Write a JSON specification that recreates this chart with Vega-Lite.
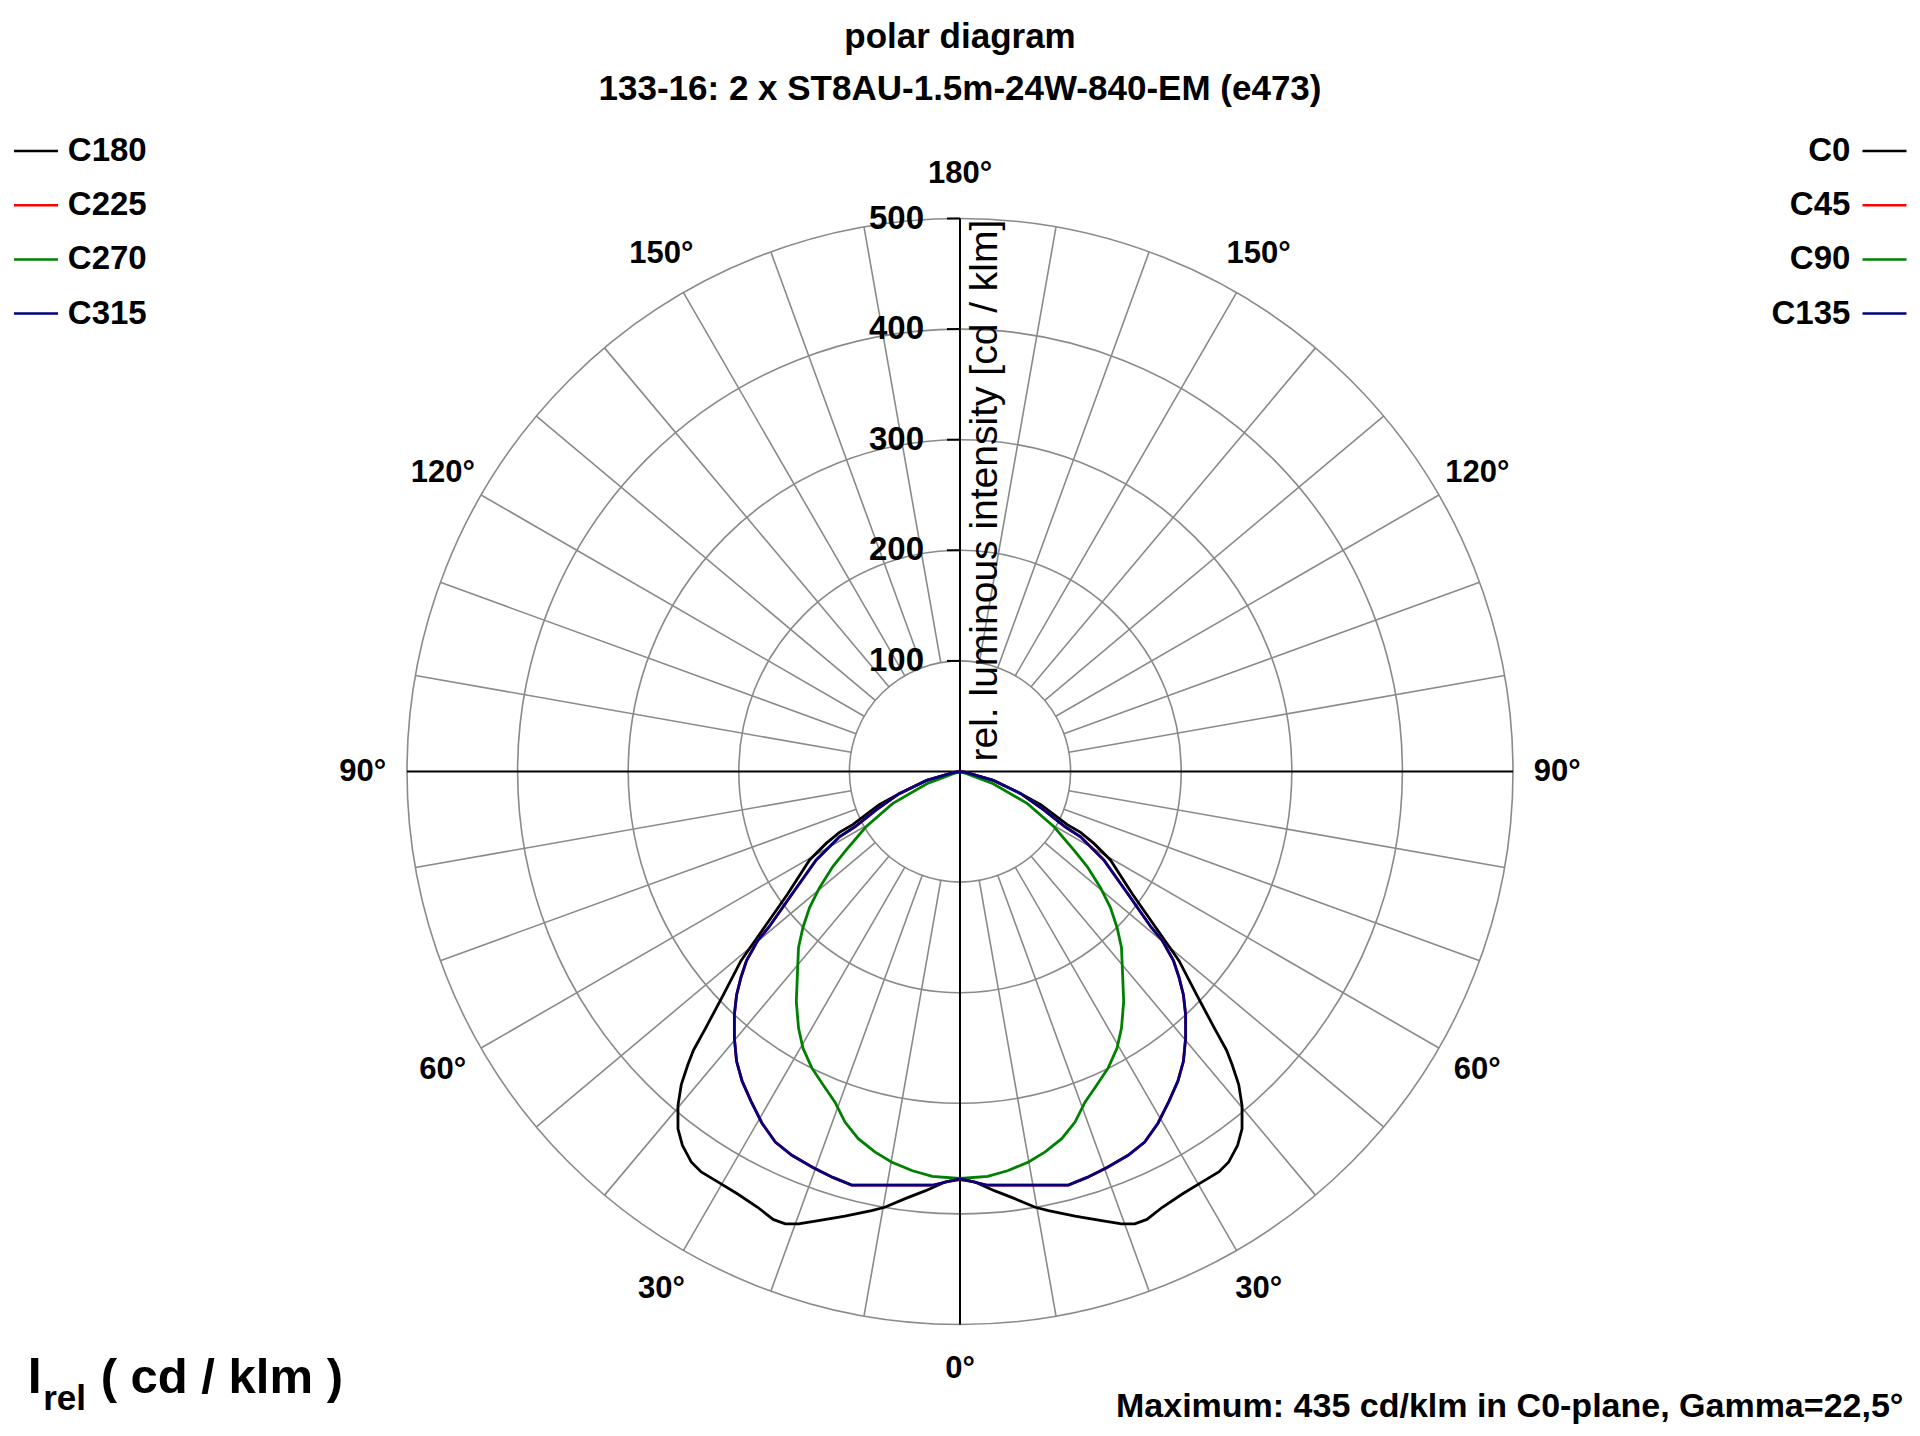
{
  "$schema": "https://vega.github.io/schema/vega-lite/v6.json",
  "width": 1106,
  "height": 1106,
  "autosize": {"type": "none"},
  "padding": {"left": 407, "top": 218.5, "right": 407, "bottom": 111.5},
  "background": "white",
  "config": {"view": {"stroke": null}, "font": "Liberation Sans"},
  "title": {
    "text": "polar diagram",
    "subtitle": "133-16: 2 x ST8AU-1.5m-24W-840-EM (e473)",
    "anchor": "middle",
    "font": "Liberation Sans", "fontSize": 35, "fontWeight": "bold", "color": "black",
    "subtitleFont": "Liberation Sans", "subtitleFontSize": 35, "subtitleFontWeight": "bold", "subtitleColor": "black",
    "subtitlePadding": 17,
    "offset": 21
  },
  "datasets": {
    "rings": [{"r": 100}, {"r": 200}, {"r": 300}, {"r": 400}, {"r": 500}],
    "spokes": [
      {"a": 10}, {"a": 20}, {"a": 30}, {"a": 40}, {"a": 50}, {"a": 60}, {"a": 70}, {"a": 80},
      {"a": 100}, {"a": 110}, {"a": 120}, {"a": 130}, {"a": 140}, {"a": 150}, {"a": 160}, {"a": 170},
      {"a": 190}, {"a": 200}, {"a": 210}, {"a": 220}, {"a": 230}, {"a": 240}, {"a": 250}, {"a": 260},
      {"a": 280}, {"a": 290}, {"a": 300}, {"a": 310}, {"a": 320}, {"a": 330}, {"a": 340}, {"a": 350}
    ],
    "ticks": [{"v": 100}, {"v": 200}, {"v": 300}, {"v": 400}, {"v": 500}],
    "angles": [
      {"t": "0°", "a": 180}, {"t": "30°", "a": 210}, {"t": "30°", "a": 150},
      {"t": "60°", "a": 240}, {"t": "60°", "a": 120}, {"t": "90°", "a": 270}, {"t": "90°", "a": 90},
      {"t": "120°", "a": 300}, {"t": "120°", "a": 60}, {"t": "150°", "a": 330}, {"t": "150°", "a": 30},
      {"t": "180°", "a": 0}
    ],
    "curves": [
      {"l": "C180", "r": "C0", "o": 0, "x": 0, "y": -369},
      {"l": "C180", "r": "C0", "o": 1, "x": -13, "y": -371},
      {"l": "C180", "r": "C0", "o": 2, "x": -31, "y": -379},
      {"l": "C180", "r": "C0", "o": 3, "x": -49, "y": -386},
      {"l": "C180", "r": "C0", "o": 4, "x": -68, "y": -394},
      {"l": "C180", "r": "C0", "o": 5, "x": -80, "y": -397},
      {"l": "C180", "r": "C0", "o": 6, "x": -104, "y": -402},
      {"l": "C180", "r": "C0", "o": 7, "x": -128, "y": -406},
      {"l": "C180", "r": "C0", "o": 8, "x": -146, "y": -409},
      {"l": "C180", "r": "C0", "o": 9, "x": -158, "y": -409},
      {"l": "C180", "r": "C0", "o": 10, "x": -169, "y": -405},
      {"l": "C180", "r": "C0", "o": 11, "x": -183, "y": -394},
      {"l": "C180", "r": "C0", "o": 12, "x": -201, "y": -382},
      {"l": "C180", "r": "C0", "o": 13, "x": -219, "y": -371},
      {"l": "C180", "r": "C0", "o": 14, "x": -234, "y": -362},
      {"l": "C180", "r": "C0", "o": 15, "x": -243, "y": -353},
      {"l": "C180", "r": "C0", "o": 16, "x": -251, "y": -338},
      {"l": "C180", "r": "C0", "o": 17, "x": -255, "y": -323},
      {"l": "C180", "r": "C0", "o": 18, "x": -255, "y": -302},
      {"l": "C180", "r": "C0", "o": 19, "x": -252, "y": -283},
      {"l": "C180", "r": "C0", "o": 20, "x": -246, "y": -265},
      {"l": "C180", "r": "C0", "o": 21, "x": -241, "y": -252},
      {"l": "C180", "r": "C0", "o": 22, "x": -230, "y": -232},
      {"l": "C180", "r": "C0", "o": 23, "x": -214, "y": -202},
      {"l": "C180", "r": "C0", "o": 24, "x": -198, "y": -171},
      {"l": "C180", "r": "C0", "o": 25, "x": -177, "y": -141},
      {"l": "C180", "r": "C0", "o": 26, "x": -156, "y": -111},
      {"l": "C180", "r": "C0", "o": 27, "x": -136, "y": -80},
      {"l": "C180", "r": "C0", "o": 28, "x": -121, "y": -65},
      {"l": "C180", "r": "C0", "o": 29, "x": -109, "y": -55},
      {"l": "C180", "r": "C0", "o": 30, "x": -97, "y": -48},
      {"l": "C180", "r": "C0", "o": 31, "x": -85, "y": -39},
      {"l": "C180", "r": "C0", "o": 32, "x": -73, "y": -30},
      {"l": "C180", "r": "C0", "o": 33, "x": -55, "y": -20},
      {"l": "C180", "r": "C0", "o": 34, "x": -30, "y": -8},
      {"l": "C180", "r": "C0", "o": 35, "x": -6, "y": -1},
      {"l": "C180", "r": "C0", "o": 36, "x": 0, "y": 0},

      {"l": "C225", "r": "C45", "o": 0, "x": 0, "y": -368},
      {"l": "C225", "r": "C45", "o": 1, "x": -24, "y": -374},
      {"l": "C225", "r": "C45", "o": 2, "x": -98, "y": -374},
      {"l": "C225", "r": "C45", "o": 3, "x": -115, "y": -367},
      {"l": "C225", "r": "C45", "o": 4, "x": -133, "y": -358},
      {"l": "C225", "r": "C45", "o": 5, "x": -152, "y": -347},
      {"l": "C225", "r": "C45", "o": 6, "x": -167, "y": -335},
      {"l": "C225", "r": "C45", "o": 7, "x": -179, "y": -318},
      {"l": "C225", "r": "C45", "o": 8, "x": -189, "y": -298},
      {"l": "C225", "r": "C45", "o": 9, "x": -197, "y": -280},
      {"l": "C225", "r": "C45", "o": 10, "x": -202, "y": -262},
      {"l": "C225", "r": "C45", "o": 11, "x": -204, "y": -241},
      {"l": "C225", "r": "C45", "o": 12, "x": -204, "y": -220},
      {"l": "C225", "r": "C45", "o": 13, "x": -202, "y": -202},
      {"l": "C225", "r": "C45", "o": 14, "x": -198, "y": -186},
      {"l": "C225", "r": "C45", "o": 15, "x": -193, "y": -171},
      {"l": "C225", "r": "C45", "o": 16, "x": -183, "y": -153},
      {"l": "C225", "r": "C45", "o": 17, "x": -173, "y": -141},
      {"l": "C225", "r": "C45", "o": 18, "x": -152, "y": -111},
      {"l": "C225", "r": "C45", "o": 19, "x": -130, "y": -80},
      {"l": "C225", "r": "C45", "o": 20, "x": -109, "y": -59},
      {"l": "C225", "r": "C45", "o": 21, "x": -95, "y": -50},
      {"l": "C225", "r": "C45", "o": 22, "x": -76, "y": -35},
      {"l": "C225", "r": "C45", "o": 23, "x": -55, "y": -20},
      {"l": "C225", "r": "C45", "o": 24, "x": -30, "y": -8},
      {"l": "C225", "r": "C45", "o": 25, "x": -6, "y": -1},
      {"l": "C225", "r": "C45", "o": 26, "x": 0, "y": 0},

      {"l": "C270", "r": "C90", "o": 0, "x": 0, "y": -368},
      {"l": "C270", "r": "C90", "o": 1, "x": -25, "y": -366},
      {"l": "C270", "r": "C90", "o": 2, "x": -43, "y": -361},
      {"l": "C270", "r": "C90", "o": 3, "x": -62, "y": -353},
      {"l": "C270", "r": "C90", "o": 4, "x": -77, "y": -344},
      {"l": "C270", "r": "C90", "o": 5, "x": -92, "y": -332},
      {"l": "C270", "r": "C90", "o": 6, "x": -104, "y": -317},
      {"l": "C270", "r": "C90", "o": 7, "x": -113, "y": -299},
      {"l": "C270", "r": "C90", "o": 8, "x": -122, "y": -286},
      {"l": "C270", "r": "C90", "o": 9, "x": -134, "y": -268},
      {"l": "C270", "r": "C90", "o": 10, "x": -142, "y": -250},
      {"l": "C270", "r": "C90", "o": 11, "x": -146, "y": -232},
      {"l": "C270", "r": "C90", "o": 12, "x": -148, "y": -208},
      {"l": "C270", "r": "C90", "o": 13, "x": -147, "y": -183},
      {"l": "C270", "r": "C90", "o": 14, "x": -146, "y": -159},
      {"l": "C270", "r": "C90", "o": 15, "x": -142, "y": -141},
      {"l": "C270", "r": "C90", "o": 16, "x": -136, "y": -123},
      {"l": "C270", "r": "C90", "o": 17, "x": -127, "y": -105},
      {"l": "C270", "r": "C90", "o": 18, "x": -115, "y": -86},
      {"l": "C270", "r": "C90", "o": 19, "x": -103, "y": -71},
      {"l": "C270", "r": "C90", "o": 20, "x": -85, "y": -50},
      {"l": "C270", "r": "C90", "o": 21, "x": -61, "y": -29},
      {"l": "C270", "r": "C90", "o": 22, "x": -30, "y": -11},
      {"l": "C270", "r": "C90", "o": 23, "x": -6, "y": -2},
      {"l": "C270", "r": "C90", "o": 24, "x": 0, "y": 0},

      {"l": "C315", "r": "C135", "o": 0, "x": 0, "y": -368},
      {"l": "C315", "r": "C135", "o": 1, "x": -24, "y": -374},
      {"l": "C315", "r": "C135", "o": 2, "x": -98, "y": -374},
      {"l": "C315", "r": "C135", "o": 3, "x": -115, "y": -367},
      {"l": "C315", "r": "C135", "o": 4, "x": -133, "y": -358},
      {"l": "C315", "r": "C135", "o": 5, "x": -152, "y": -347},
      {"l": "C315", "r": "C135", "o": 6, "x": -167, "y": -335},
      {"l": "C315", "r": "C135", "o": 7, "x": -179, "y": -318},
      {"l": "C315", "r": "C135", "o": 8, "x": -189, "y": -298},
      {"l": "C315", "r": "C135", "o": 9, "x": -197, "y": -280},
      {"l": "C315", "r": "C135", "o": 10, "x": -202, "y": -262},
      {"l": "C315", "r": "C135", "o": 11, "x": -204, "y": -241},
      {"l": "C315", "r": "C135", "o": 12, "x": -204, "y": -220},
      {"l": "C315", "r": "C135", "o": 13, "x": -202, "y": -202},
      {"l": "C315", "r": "C135", "o": 14, "x": -198, "y": -186},
      {"l": "C315", "r": "C135", "o": 15, "x": -193, "y": -171},
      {"l": "C315", "r": "C135", "o": 16, "x": -183, "y": -153},
      {"l": "C315", "r": "C135", "o": 17, "x": -173, "y": -141},
      {"l": "C315", "r": "C135", "o": 18, "x": -152, "y": -111},
      {"l": "C315", "r": "C135", "o": 19, "x": -130, "y": -80},
      {"l": "C315", "r": "C135", "o": 20, "x": -109, "y": -59},
      {"l": "C315", "r": "C135", "o": 21, "x": -95, "y": -50},
      {"l": "C315", "r": "C135", "o": 22, "x": -76, "y": -35},
      {"l": "C315", "r": "C135", "o": 23, "x": -55, "y": -20},
      {"l": "C315", "r": "C135", "o": 24, "x": -30, "y": -8},
      {"l": "C315", "r": "C135", "o": 25, "x": -6, "y": -1},
      {"l": "C315", "r": "C135", "o": 26, "x": 0, "y": 0}
    ]
  },
  "resolve": {"scale": {"x": "independent"}},
  "layer": [
    {
      "data": {"name": "rings"},
      "mark": {"type": "arc", "filled": false, "stroke": "#8a8a8a", "strokeWidth": 1.6, "theta": 0, "theta2": 6.283185307179586},
      "encoding": {
        "radius": {"field": "r", "type": "quantitative", "stack": null, "scale": {"type": "linear", "zero": true, "nice": false, "domain": [0, 500], "range": [0, 553]}}
      }
    },
    {
      "data": {"name": "spokes"},
      "mark": {"type": "arc", "filled": false, "stroke": "#8a8a8a", "strokeWidth": 1.6},
      "encoding": {
        "theta": {"field": "a", "type": "quantitative", "stack": null, "scale": {"type": "linear", "zero": true, "nice": false, "domain": [0, 360], "range": [0, 6.283185307179586]}},
        "theta2": {"field": "a"},
        "radius": {"datum": 500, "type": "quantitative", "stack": null, "scale": {"type": "linear", "zero": true, "nice": false, "domain": [0, 500], "range": [0, 553]}},
        "radius2": {"datum": 100}
      }
    },
    {
      "data": {"values": [{}]},
      "mark": {"type": "rule", "color": "black", "strokeWidth": 2},
      "encoding": {
        "x": {"datum": -500, "type": "quantitative", "scale": {"domain": [-500, 500], "nice": false}, "axis": null},
        "x2": {"datum": 500},
        "y": {"datum": 0, "type": "quantitative", "scale": {"domain": [-500, 500], "nice": false}, "axis": null}
      }
    },
    {
      "data": {"values": [{}]},
      "mark": {"type": "rule", "color": "black", "strokeWidth": 2},
      "encoding": {
        "x": {"datum": 0, "type": "quantitative", "scale": {"domain": [-500, 500], "nice": false}, "axis": null},
        "y": {"datum": -500, "type": "quantitative", "axis": null},
        "y2": {"datum": 500}
      }
    },
    {
      "data": {"name": "ticks"},
      "mark": {"type": "rule", "color": "black", "strokeWidth": 2},
      "encoding": {
        "x": {"datum": -11.8, "type": "quantitative", "scale": {"domain": [-500, 500], "nice": false}, "axis": null},
        "x2": {"datum": 0},
        "y": {"field": "v", "type": "quantitative", "axis": null}
      }
    },
    {
      "data": {"name": "ticks"},
      "mark": {"type": "text", "font": "Liberation Sans", "fontSize": 33, "fontWeight": "bold", "color": "black", "align": "right", "baseline": "middle", "dx": -36},
      "encoding": {
        "x": {"datum": 0, "type": "quantitative", "scale": {"domain": [-500, 500], "nice": false}, "axis": null},
        "y": {"field": "v", "type": "quantitative", "axis": null},
        "text": {"field": "v", "type": "quantitative"}
      }
    },
    {
      "data": {"name": "curves"},
      "mark": {"type": "line", "strokeWidth": 2.8},
      "encoding": {
        "x": {"field": "x", "type": "quantitative", "scale": {"domain": [-500, 500], "nice": false}, "axis": null},
        "y": {"field": "y", "type": "quantitative", "axis": null},
        "order": {"field": "o", "type": "quantitative"},
        "color": {
          "field": "l", "type": "nominal",
          "scale": {"domain": ["C180", "C225", "C270", "C315"], "range": ["#000000", "#ff0000", "#008000", "#000080"]},
          "legend": {
            "title": null, "orient": "none", "legendX": -394.5, "legendY": -91,
            "padding": 0, "rowPadding": 13.2, "symbolType": "stroke", "symbolSize": 1936,
            "symbolStrokeWidth": 2.5, "labelFont": "Liberation Sans", "labelFontSize": 33,
            "labelFontWeight": "bold", "labelColor": "black", "labelOffset": 8.3, "labelAlign": "left"
          }
        }
      }
    },
    {
      "data": {"name": "curves"},
      "mark": {"type": "line", "strokeWidth": 2.8},
      "encoding": {
        "x": {"field": "x", "type": "quantitative", "scale": {"domain": [500, -500], "nice": false}, "axis": null},
        "y": {"field": "y", "type": "quantitative", "axis": null},
        "order": {"field": "o", "type": "quantitative"},
        "stroke": {
          "field": "r", "type": "nominal",
          "scale": {"domain": ["C0", "C45", "C90", "C135"], "range": ["#000000", "#ff0000", "#008000", "#000080"]},
          "legend": {
            "title": null, "orient": "none", "legendX": 1454, "legendY": -91,
            "padding": 0, "rowPadding": 13.2, "symbolType": "stroke", "symbolSize": 1936,
            "symbolStrokeWidth": 2.5, "labelFont": "Liberation Sans", "labelFontSize": 33,
            "labelFontWeight": "bold", "labelColor": "black", "labelOffset": -57.6, "labelAlign": "right"
          }
        }
      }
    },
    {
      "data": {"name": "angles"},
      "mark": {"type": "text", "font": "Liberation Sans", "fontSize": 31, "fontWeight": "bold", "color": "black", "align": "center", "baseline": "middle"},
      "encoding": {
        "theta": {"field": "a", "type": "quantitative", "stack": null, "scale": {"type": "linear", "zero": true, "nice": false, "domain": [0, 360], "range": [0, 6.283185307179586]}},
        "radius": {"datum": 540, "type": "quantitative", "stack": null, "scale": {"type": "linear", "zero": true, "nice": false, "domain": [0, 500], "range": [0, 553]}},
        "text": {"field": "t", "type": "nominal"}
      }
    },
    {
      "data": {"values": [{}]},
      "mark": {"type": "text", "font": "Liberation Sans", "fontSize": 39, "color": "black", "angle": 270, "align": "center", "baseline": "middle"},
      "encoding": {
        "x": {"datum": 23, "type": "quantitative", "scale": {"domain": [-500, 500], "nice": false}, "axis": null},
        "y": {"datum": 254, "type": "quantitative", "axis": null},
        "text": {"value": "rel. luminous intensity [cd / klm]"}
      }
    },
    {
      "data": {"values": [{}]},
      "mark": {"type": "text", "font": "Liberation Sans", "fontSize": 50, "fontWeight": "bold", "color": "black", "align": "left", "baseline": "alphabetic"},
      "encoding": {
        "x": {"datum": -843, "type": "quantitative", "scale": {"domain": [-500, 500], "nice": false}, "axis": null},
        "y": {"datum": -562, "type": "quantitative", "axis": null},
        "text": {"value": "I"}
      }
    },
    {
      "data": {"values": [{}]},
      "mark": {"type": "text", "font": "Liberation Sans", "fontSize": 35, "fontWeight": "bold", "color": "black", "align": "left", "baseline": "alphabetic"},
      "encoding": {
        "x": {"datum": -829, "type": "quantitative", "scale": {"domain": [-500, 500], "nice": false}, "axis": null},
        "y": {"datum": -577, "type": "quantitative", "axis": null},
        "text": {"value": "rel"}
      }
    },
    {
      "data": {"values": [{}]},
      "mark": {"type": "text", "font": "Liberation Sans", "fontSize": 49, "fontWeight": "bold", "color": "black", "align": "left", "baseline": "alphabetic"},
      "encoding": {
        "x": {"datum": -777, "type": "quantitative", "scale": {"domain": [-500, 500], "nice": false}, "axis": null},
        "y": {"datum": -562, "type": "quantitative", "axis": null},
        "text": {"value": "( cd / klm )"}
      }
    },
    {
      "data": {"values": [{}]},
      "mark": {"type": "text", "font": "Liberation Sans", "fontSize": 34, "fontWeight": "bold", "color": "black", "align": "right", "baseline": "alphabetic"},
      "encoding": {
        "x": {"datum": 853, "type": "quantitative", "scale": {"domain": [-500, 500], "nice": false}, "axis": null},
        "y": {"datum": -584, "type": "quantitative", "axis": null},
        "text": {"value": "Maximum: 435 cd/klm in C0-plane, Gamma=22,5°"}
      }
    }
  ]
}
